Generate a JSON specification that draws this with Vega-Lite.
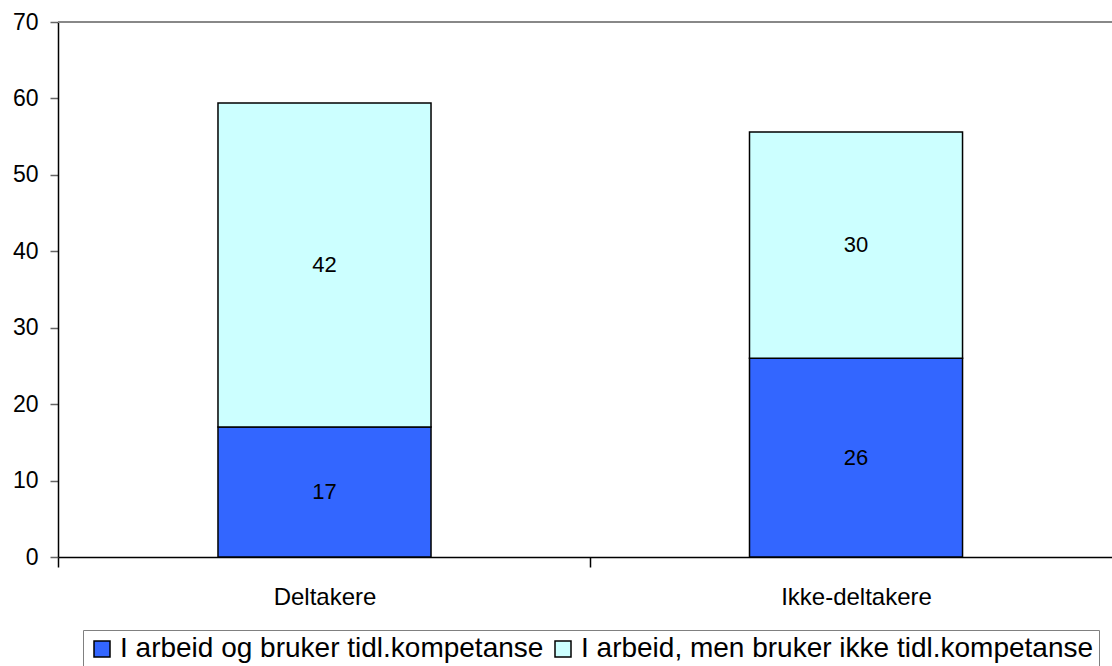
{
  "$schema": "https://vega.github.io/schema/vega-lite/v6.json",
  "width": 1054,
  "height": 535,
  "autosize": "none",
  "padding": {"top": 22, "left": 58, "right": 0, "bottom": 109},
  "background": "white",
  "config": {
    "font": "Liberation Sans",
    "view": {"stroke": null}
  },
  "data": {
    "values": [
      {"gruppe": "Deltakere", "kategori": "I arbeid og bruker tidl.kompetanse", "verdi": 17.0, "ordre": 1},
      {"gruppe": "Deltakere", "kategori": "I arbeid, men bruker ikke tidl.kompetanse", "verdi": 42.4, "ordre": 2},
      {"gruppe": "Ikke-deltakere", "kategori": "I arbeid og bruker tidl.kompetanse", "verdi": 26.0, "ordre": 1},
      {"gruppe": "Ikke-deltakere", "kategori": "I arbeid, men bruker ikke tidl.kompetanse", "verdi": 29.6, "ordre": 2}
    ]
  },
  "layer": [
    {
      "mark": {"type": "rule", "color": "#888888", "strokeWidth": 2},
      "encoding": {"y": {"datum": 70, "type": "quantitative", "scale": {"domain": [0, 70]}}}
    },
    {
      "mark": {"type": "bar", "stroke": "black", "strokeWidth": 1.5},
      "encoding": {
        "x": {
          "field": "gruppe",
          "type": "nominal",
          "sort": ["Deltakere", "Ikke-deltakere"],
          "scale": {"paddingInner": 0.5992, "paddingOuter": 0.2911, "align": 0.517},
          "axis": {
            "title": null,
            "labelAngle": 0,
            "labelFontSize": 24,
            "labelColor": "black",
            "labelPadding": 18,
            "labelOffset": 159.5,
            "domainColor": "black",
            "domainWidth": 1.5,
            "tickColor": "black",
            "tickWidth": 1.5,
            "tickSize": 10,
            "bandPosition": 0,
            "tickOffset": -159.5,
            "ticks": true
          }
        },
        "y": {
          "field": "verdi",
          "type": "quantitative",
          "stack": "zero",
          "scale": {"domain": [0, 70]},
          "axis": {
            "title": null,
            "values": [0, 10, 20, 30, 40, 50, 60, 70],
            "labelFontSize": 23,
            "labelColor": "black",
            "labelPadding": 12,
            "domainColor": "black",
            "domainWidth": 1.5,
            "tickColor": "#666666",
            "tickWidth": 1.5,
            "tickSize": 8,
            "grid": false
          }
        },
        "color": {
          "field": "kategori",
          "type": "nominal",
          "sort": ["I arbeid og bruker tidl.kompetanse", "I arbeid, men bruker ikke tidl.kompetanse"],
          "scale": {
            "domain": ["I arbeid og bruker tidl.kompetanse", "I arbeid, men bruker ikke tidl.kompetanse"],
            "range": ["#3366FF", "#CCFFFF"]
          },
          "legend": {
            "title": null,
            "orient": "none",
            "legendX": 25,
            "legendY": 608,
            "direction": "horizontal",
            "symbolType": "square",
            "symbolSize": 256,
            "symbolStrokeColor": "black",
            "symbolStrokeWidth": 1.5,
            "labelFontSize": 28,
            "labelColor": "black",
            "labelLimit": 700,
            "columnPadding": 5,
            "labelOffset": 4,
            "strokeColor": "#808080",
            "padding": 5
          }
        },
        "order": {"field": "ordre", "type": "quantitative"}
      }
    },
    {
      "mark": {"type": "text", "fontSize": 22, "color": "black"},
      "encoding": {
        "x": {"field": "gruppe", "type": "nominal", "sort": ["Deltakere", "Ikke-deltakere"]},
        "y": {"field": "verdi", "type": "quantitative", "stack": "zero", "bandPosition": 0.5},
        "text": {"field": "verdi", "type": "quantitative", "format": ".0f"},
        "order": {"field": "ordre", "type": "quantitative"}
      }
    }
  ]
}
